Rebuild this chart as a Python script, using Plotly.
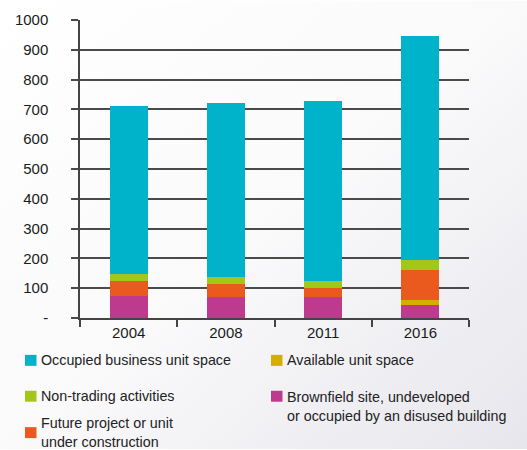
import base64
import plotly.graph_objects as go

years = ["2004", "2008", "2011", "2016"]
brownfield = [75, 70, 70, 42]
available = [0, 0, 0, 20]
future = [50, 45, 32, 100]
nontrading = [24, 24, 23, 34]
occupied = [561, 581, 602, 752]

y_tickvals = [0, 100, 200, 300, 400, 500, 600, 700, 800, 900, 1000]
y_ticktext = ["-", "100", "200", "300", "400", "500", "600", "700", "800", "900", "1000"]

series = [
    ("Brownfield site, undeveloped<br>or occupied by an disused building", brownfield, "#BD3A8C"),
    ("Available unit space", available, "#D4AE00"),
    ("Future project or unit<br>under construction", future, "#EA5A1F"),
    ("Non-trading activities", nontrading, "#A3C61B"),
    ("Occupied business unit space", occupied, "#00B3CB"),
]

W, H = 527, 450
L, R, T, B = 80, 58, 19.5, 131.5
pw, ph = W - L - R, H - T - B

FONT = "Liberation Sans, Arial, sans-serif"

fig = go.Figure()
for name, vals, col in series:
    fig.add_trace(go.Bar(x=years, y=vals, name=name, marker=dict(color=col, line=dict(width=0)),
                         showlegend=False))

# background gradient
svg = ('<svg xmlns="http://www.w3.org/2000/svg" width="527" height="450">'
       '<defs><linearGradient id="g" x1="0" y1="0" x2="1" y2="1">'
       '<stop offset="0" stop-color="#ffffff"/><stop offset="0.5" stop-color="#fafafb"/>'
       '<stop offset="1" stop-color="#e6e6ec"/></linearGradient></defs>'
       '<rect width="527" height="450" fill="url(#g)"/></svg>')
src = "data:image/svg+xml;base64," + base64.b64encode(svg.encode()).decode()
fig.add_layout_image(dict(source=src, xref="paper", yref="paper", x=-L / pw, y=1 + T / ph,
                          sizex=W / pw, sizey=H / ph, sizing="stretch", xanchor="left",
                          yanchor="top", layer="below"))


def px(x):
    return (x - L) / pw


def py(y):
    return (H - B - y) / ph


legend_items = [
    ("Occupied business unit space", "#00B3CB", 25, 361, 361),
    ("Available unit space", "#D4AE00", 271, 361, 361),
    ("Non-trading activities", "#A3C61B", 25, 397, 397),
    ("Brownfield site, undeveloped<br>or occupied by an disused building", "#BD3A8C", 271, 397, 407),
    ("Future project or unit<br>under construction", "#EA5A1F", 25, 433.5, 433.5),
]
for text, col, sx, sy, ty in legend_items:
    fig.add_shape(type="rect", xref="paper", yref="paper", x0=px(sx), x1=px(sx + 11.5),
                  y0=py(sy - 5.5), y1=py(sy + 5.5), fillcolor=col, line=dict(width=0))
    fig.add_annotation(xref="paper", yref="paper", x=px(sx + 14), y=py(ty), text=text,
                       showarrow=False, xanchor="left", yanchor="middle", align="left",
                       font=dict(family=FONT, size=14.3, color="#222222"))

fig.update_layout(
    width=W, height=H, barmode="stack", bargap=0.61,
    margin=dict(l=L, r=R, t=T, b=B),
    paper_bgcolor="rgba(0,0,0,0)", plot_bgcolor="rgba(0,0,0,0)",
    font=dict(family=FONT, size=14, color="#222222"),
)
fig.update_yaxes(range=[0, 1000], tickvals=y_tickvals, ticktext=y_ticktext,
                 showgrid=True, gridcolor="#4a4a4a", gridwidth=1.5, zeroline=False,
                 ticks="outside", ticklen=7, tickcolor="#4a4a4a", tickwidth=1.5,
                 showline=True, linecolor="#444444", linewidth=1.5,
                 ticklabelstandoff=20, tickfont=dict(size=15, color="#1a1a1a"))
fig.update_xaxes(showline=True, linecolor="#444444", linewidth=1.5, ticks="outside",
                 tickson="boundaries", ticklen=7, tickcolor="#444444", tickwidth=1.5,
                 showgrid=False, tickfont=dict(size=15, color="#1a1a1a"))

fig.write_html("out.html", config={"displayModeBar": False},
               post_script="document.body.style.margin='0';document.body.style.overflow='hidden';")
